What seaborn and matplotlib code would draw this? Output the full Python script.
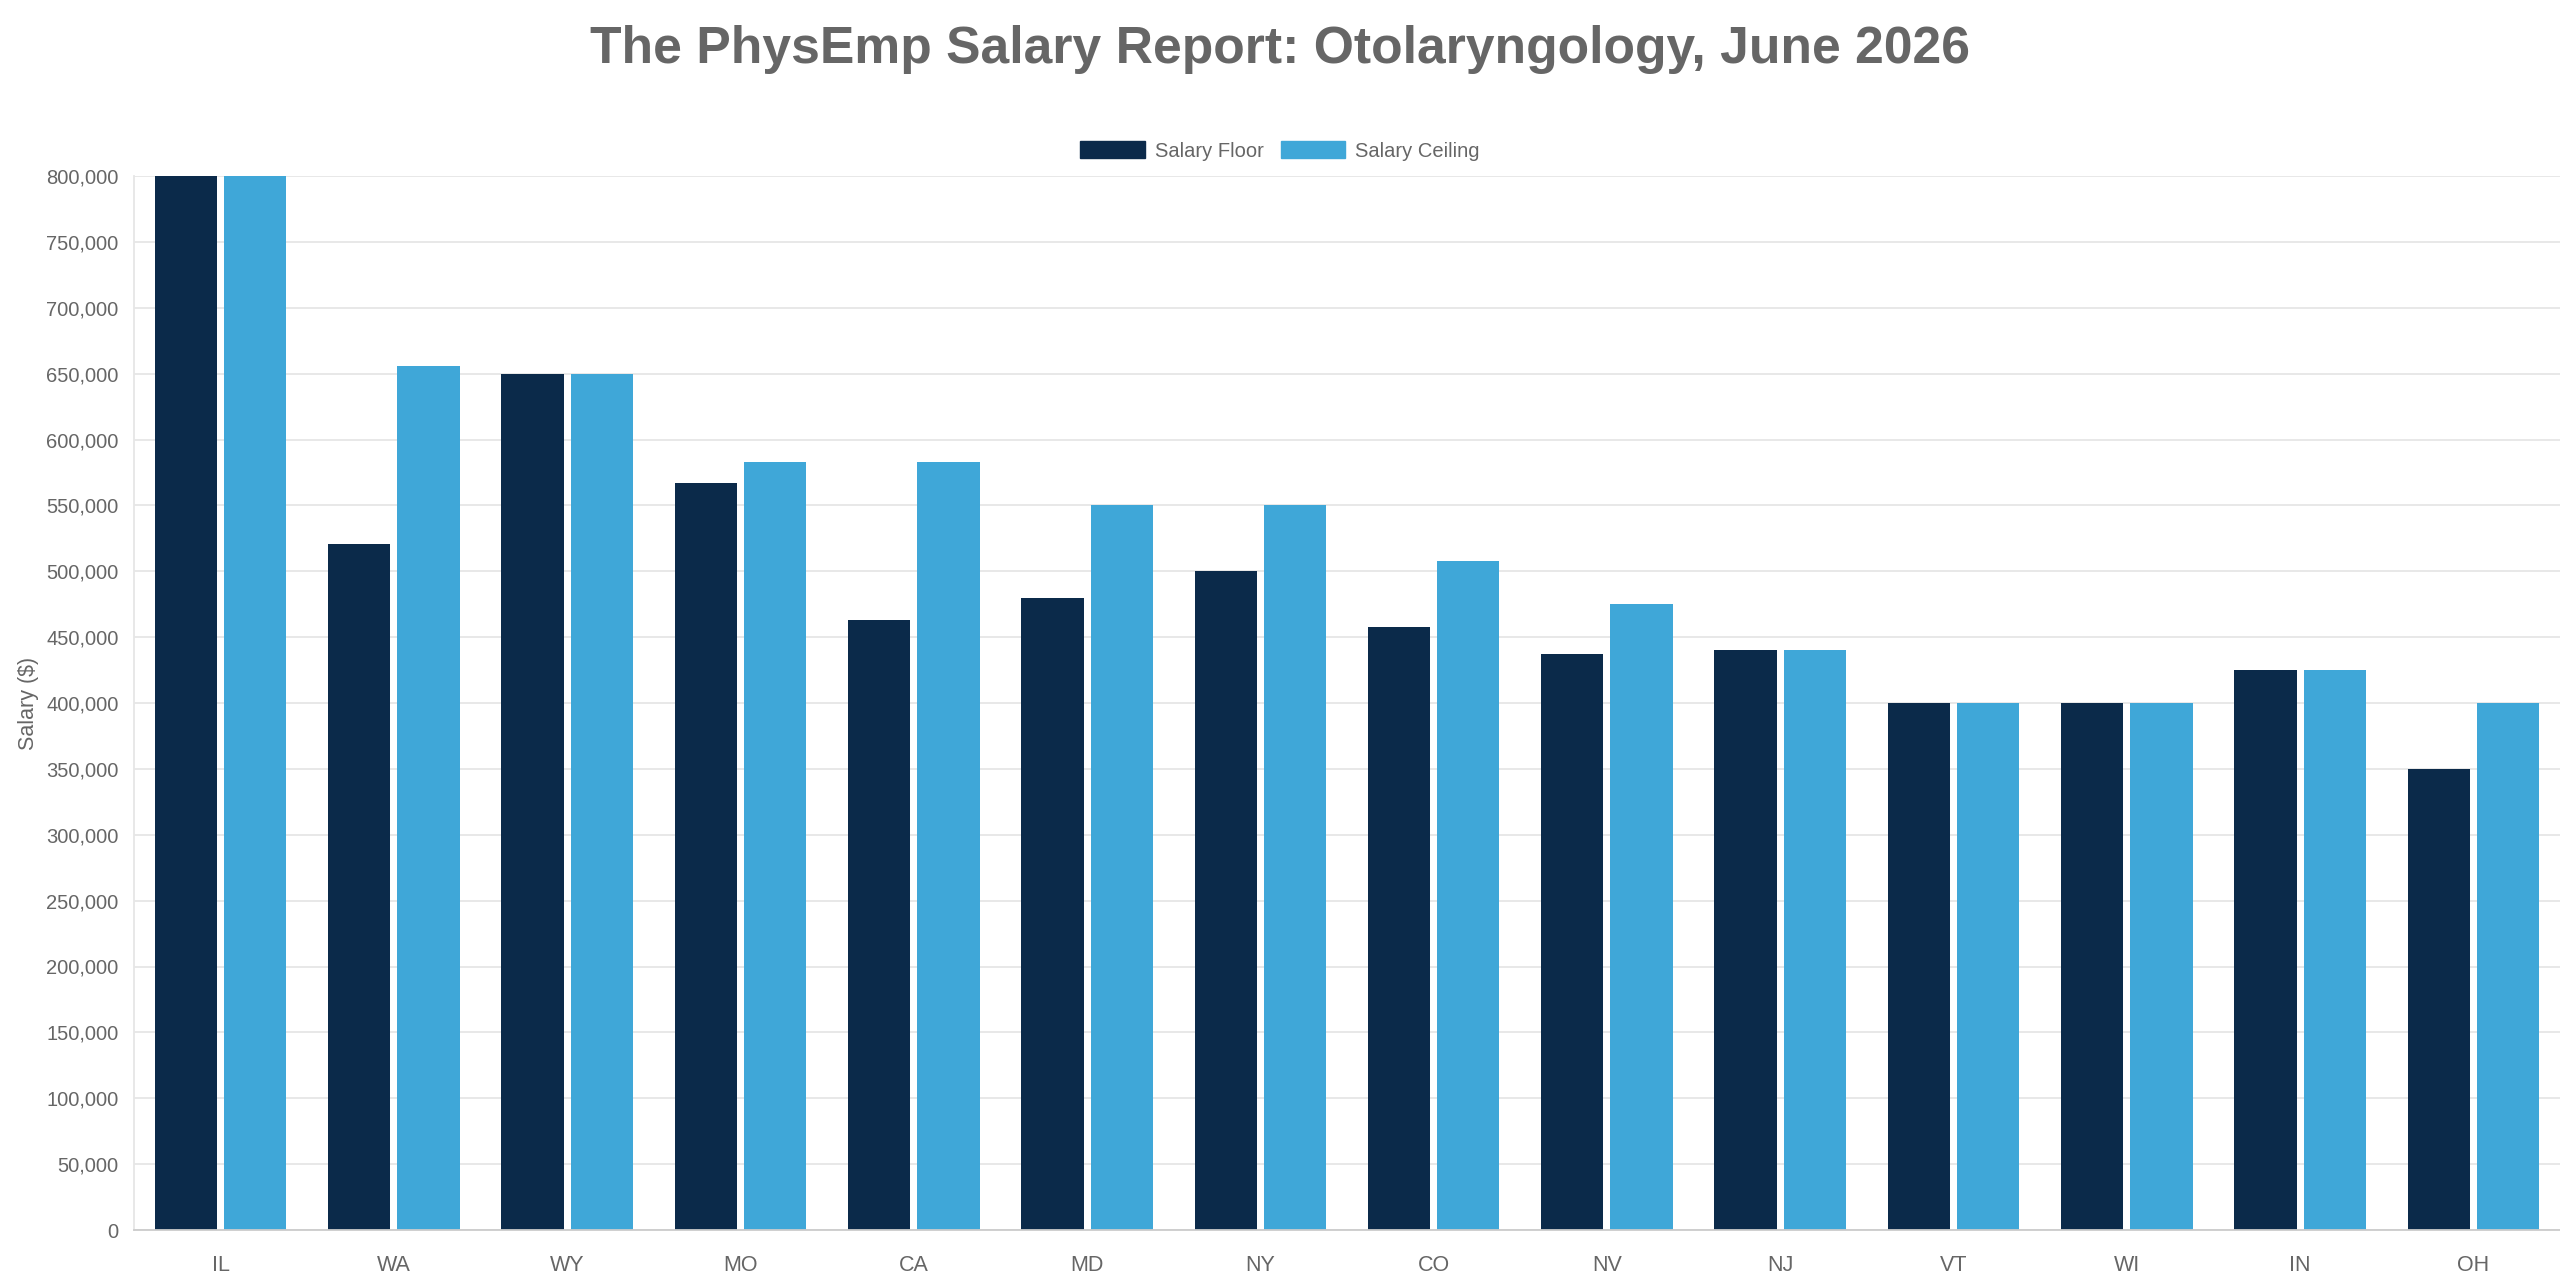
import matplotlib
matplotlib.use("Agg")
import matplotlib.pyplot as plt
import matplotlib.ticker as mticker
import seaborn as sns
import pandas as pd

# values
states = ["IL", "WA", "WY", "MO", "CA", "MD", "NY", "CO", "NV", "NJ", "VT", "WI", "IN", "OH"]
salary_floor = [800000, 521000, 650000, 567000, 463000, 480000, 500000, 458000, 437000, 440000,
                400000, 400000, 425000, 350000]
salary_ceiling = [800000, 656000, 650000, 583000, 583000, 550000, 550000, 508000, 475000, 440000,
                  400000, 400000, 425000, 400000]
series_names = ["Salary Floor", "Salary Ceiling"]
y_ticks = list(range(0, 800001, 50000))

TEXT = "#666666"
colors = ["#0B2A4A", "#3FA7D8"]

rows = []
for s, f, c in zip(states, salary_floor, salary_ceiling):
    rows.append([s, f, series_names[0]])
    rows.append([s, c, series_names[1]])
data = pd.DataFrame(rows, columns=["State", "Salary", "Series"])

sns.set_style("white")
plt.rcParams["font.family"] = ["Liberation Sans", "DejaVu Sans"]

fig = plt.figure(figsize=(25.6, 12.8), dpi=100)
ax = fig.add_axes([134 / 2560, 1 - 1230 / 1280, 1 - 134 / 2560, (1230 - 176) / 1280])

sns.barplot(data=data, x="State", y="Salary", hue="Series", palette=colors,
            width=0.8, gap=0.1, linewidth=0, saturation=1, ax=ax, legend=False)

ax.set_xlim(-0.5, len(states) - 0.5)
ax.set_ylim(0, 800000)
ax.set_yticks(y_ticks)
ax.yaxis.set_major_formatter(mticker.FuncFormatter(lambda v, p: "{:,.0f}".format(v)))
ax.grid(axis="y", color="#e6e6e6", linewidth=1.3)
ax.set_axisbelow(True)
ax.tick_params(axis="y", length=7, color="#e6e6e6", labelsize=14.5, labelcolor=TEXT, pad=4)
ax.tick_params(axis="x", length=0, labelsize=15.5, labelcolor=TEXT, pad=18)
for side in ["top", "right"]:
    ax.spines[side].set_visible(False)
ax.spines["left"].set_color("#e6e6e6")
ax.spines["bottom"].set_color("#cccccc")
ax.spines["left"].set_linewidth(1.3)
ax.spines["bottom"].set_linewidth(1.3)
ax.set_xlabel("")
ax.set_ylabel("Salary ($)", fontsize=15.5, color=TEXT)
ax.yaxis.set_label_coords(-0.039, 0.5)

handles = [plt.Rectangle((0, 0), 1, 1, color=c) for c in colors]
fig.legend(handles, series_names, loc="center", bbox_to_anchor=(0.5, 1 - 151 / 1280), ncol=2,
           frameon=False, fontsize=14.5, labelcolor=TEXT, handlelength=3.2, handleheight=0.9,
           handletextpad=0.5, columnspacing=0.85)

fig.text(0.5, 1 - 50 / 1280, "The PhysEmp Salary Report: Otolaryngology, June 2026",
         ha="center", va="center", fontsize=37.2, fontweight="bold", color=TEXT)

fig.savefig("out.png", dpi=100)
